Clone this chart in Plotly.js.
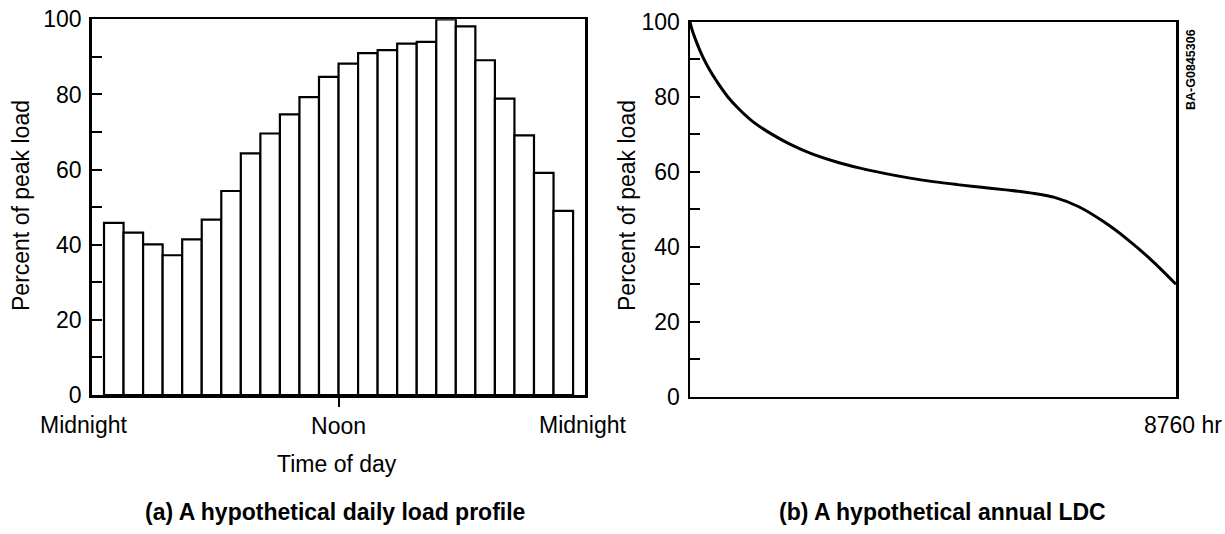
<!DOCTYPE html>
<html>
<head>
<meta charset="utf-8">
<script src="https://cdn.plot.ly/plotly-3.0.1.min.js"></script>
<style>
  html, body { margin: 0; padding: 0; background: #ffffff; }
  #chart { width: 1225px; height: 534px; }
</style>
</head>
<body>
<div id="chart"></div>
<script>
// ---- Data ----
const hours = [0.5, 1.5, 2.5, 3.5, 4.5, 5.5, 6.5, 7.5, 8.5, 9.5, 10.5, 11.5,
               12.5, 13.5, 14.5, 15.5, 16.5, 17.5, 18.5, 19.5, 20.5, 21.5, 22.5, 23.5];
const dailyLoad = [45.8, 43.2, 40.1, 37.2, 41.4, 46.7, 54.3, 64.3, 69.6, 74.7, 79.3, 84.7,
                   88.2, 91.0, 91.8, 93.5, 94.0, 100, 98.1, 89.1, 78.9, 69.1, 59.1, 49.0];

const ldcHours   = [0, 40, 100, 170, 237, 350, 480, 683, 900, 1150, 1480, 1800, 2164, 2628,
                    3066, 3504, 3942, 4380, 4818, 5256, 5694, 6132, 6570, 7008, 7446,
                    7884, 8322, 8760];
const ldcPercent = [100, 97.8, 95.3, 92.7, 90.5, 87.3, 84.2, 80, 76.5, 73.2, 70, 67.4, 65, 62.7,
                    61, 59.6, 58.4, 57.4, 56.6, 55.9, 55.2, 54.4, 53.2, 50.7, 46.8,
                    42.0, 36.4, 30.0];

const yTickVals = [0, 10, 20, 30, 40, 50, 60, 70, 80, 90, 100];
const yTickText = ['0', '', '20', '', '40', '', '60', '', '80', '', '100'];
const noonTickVals = [12];
const noonTickText = ['Noon'];
const midnightLabels = ['Midnight', 'Midnight'];
const ldcEndLabel = '8760 hr';

// ---- Layout helpers ----
const W = 1225, H = 534;
const px = v => v / W;
const py = v => (H - v) / H;
const FONT = '"Liberation Sans", Arial, Helvetica, sans-serif';
const TXT = { family: FONT, size: 23, color: '#000' };

const frameAxis = {
  showline: true, mirror: true, linewidth: 2.5, linecolor: '#000',
  showgrid: false, zeroline: false, fixedrange: true
};

const traces = [
  {
    type: 'bar', x: hours, y: dailyLoad, width: 1,
    marker: { color: '#ffffff', line: { color: '#000000', width: 2.2 } },
    xaxis: 'x', yaxis: 'y', hoverinfo: 'x+y'
  },
  {
    type: 'scatter', mode: 'lines', x: ldcHours, y: ldcPercent,
    line: { color: '#000000', width: 3, shape: 'spline', smoothing: 1 },
    xaxis: 'x2', yaxis: 'y2'
  }
];

const yAxisCommon = Object.assign({}, frameAxis, {
  range: [0, 100], tickmode: 'array', tickvals: yTickVals, ticktext: yTickText,
  ticks: 'inside', ticklen: 10, tickwidth: 2, tickcolor: '#000',
  tickfont: TXT, ticklabelstandoff: 3
});

const annotations = [
  { xref: 'paper', yref: 'paper', x: px(84), y: py(425), text: midnightLabels[0], showarrow: false,
    xanchor: 'center', yanchor: 'middle', font: TXT },
  { xref: 'paper', yref: 'paper', x: px(583), y: py(425), text: midnightLabels[1], showarrow: false,
    xanchor: 'center', yanchor: 'middle', font: TXT },
  { xref: 'x2', yref: 'paper', x: 8760, xshift: 7, y: py(425), text: ldcEndLabel, showarrow: false,
    xanchor: 'center', yanchor: 'middle', font: TXT },
  { xref: 'paper', yref: 'paper', x: px(337), y: py(464), text: 'Time of day', showarrow: false,
    xanchor: 'center', yanchor: 'middle', font: TXT },
  { xref: 'paper', yref: 'paper', x: px(21), y: py(206), text: 'Percent of peak load', textangle: -90,
    showarrow: false, xanchor: 'center', yanchor: 'middle', font: TXT },
  { xref: 'paper', yref: 'paper', x: px(627), y: py(206), text: 'Percent of peak load', textangle: -90,
    showarrow: false, xanchor: 'center', yanchor: 'middle', font: TXT },
  { xref: 'paper', yref: 'paper', x: px(335), y: py(512), text: '<b>(a) A hypothetical daily load profile</b>',
    showarrow: false, xanchor: 'center', yanchor: 'middle', font: TXT },
  { xref: 'paper', yref: 'paper', x: px(942), y: py(512), text: '<b>(b) A hypothetical annual LDC</b>',
    showarrow: false, xanchor: 'center', yanchor: 'middle', font: TXT },
  { xref: 'paper', yref: 'paper', x: px(1191), y: py(70), text: '<b>BA-G0845306</b>', textangle: -90,
    showarrow: false, xanchor: 'center', yanchor: 'middle', font: { family: FONT, size: 12.5, color: '#000' } }
];

const layout = {
  width: W, height: H,
  margin: { l: 0, r: 0, t: 0, b: 0 },
  paper_bgcolor: '#ffffff', plot_bgcolor: '#ffffff',
  showlegend: false, bargap: 0,
  font: { family: FONT, color: '#000' },
  xaxis: Object.assign({}, frameAxis, {
    domain: [px(91.7), px(585)], range: [-0.63, 24.61], anchor: 'y',
    tickmode: 'array', tickvals: noonTickVals, ticktext: noonTickText,
    ticks: 'outside', ticklen: 9, tickwidth: 2, tickcolor: '#000',
    tickfont: TXT, ticklabelstandoff: 0
  }),
  yaxis: Object.assign({}, yAxisCommon, { domain: [py(395), py(19.3)], anchor: 'x' }),
  xaxis2: Object.assign({}, frameAxis, {
    domain: [px(690), px(1176)], range: [0, 8760], anchor: 'y2',
    showticklabels: false, ticks: ''
  }),
  yaxis2: Object.assign({}, yAxisCommon, { domain: [py(396.7), py(22)], anchor: 'x2' }),
  annotations: annotations
};

Plotly.newPlot('chart', traces, layout, { displayModeBar: false, staticPlot: true });
</script>
</body>
</html>
